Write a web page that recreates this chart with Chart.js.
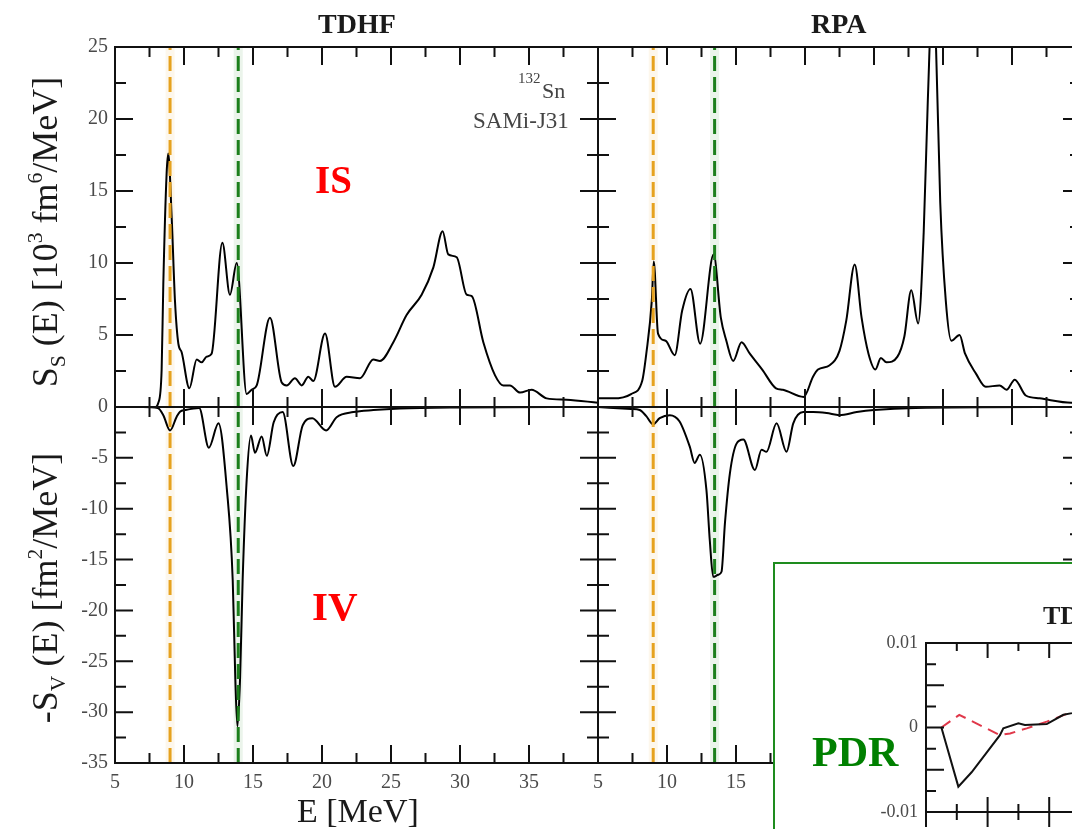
<!DOCTYPE html>
<html>
<head>
<meta charset="utf-8">
<script src="https://cdn.jsdelivr.net/npm/chart.js@4.4.1/dist/chart.umd.min.js"></script>
<style>
html, body { margin: 0; padding: 0; background: #fff; }
#stage { position: relative; width: 1072px; height: 829px; overflow: hidden;
         font-family: 'Liberation Serif', 'Times New Roman', serif; color: #1a1a1a; }
#stage canvas { position: absolute; }
.t { position: absolute; white-space: nowrap; line-height: 1; }
.b { font-weight: bold; }
.sub { font-size: .6em; position: relative; top: .35em; }
.sup { font-size: .6em; position: relative; top: -.7em; }
.rot { transform: translate(-50%, -50%) rotate(-90deg); font-size: 36px; }
#inset { position: absolute; left: 773px; top: 562px; width: 420px; height: 420px;
         border: 2px solid #1e8c1e; background: #fff; }
</style>
</head>
<body>
<div id="stage">
  <canvas id="tdhfUp" width="620" height="431" style="left:0;top:0"></canvas>
  <canvas id="tdhfLo" width="620" height="446" style="left:0;top:383px"></canvas>
  <canvas id="rpaUp" width="517" height="431" style="left:584px;top:0"></canvas>
  <canvas id="rpaLo" width="517" height="446" style="left:584px;top:383px"></canvas>

  <div class="t b" style="left:318px;top:10px;font-size:28px">TDHF</div>
  <div class="t b" style="left:811px;top:10px;font-size:28px">RPA</div>
  <div class="t rot" style="left:45px;top:232px">S<span class="sub">S</span> (E) [10<span class="sup">3</span> fm<span class="sup">6</span>/MeV]</div>
  <div class="t rot" style="left:45px;top:588px">-S<span class="sub">V</span> (E) [fm<span class="sup">2</span>/MeV]</div>
  <div class="t" style="left:297px;top:794px;font-size:34px">E [MeV]</div>
  <div class="t" style="left:518px;top:71px;font-size:15px;color:#444">132</div>
  <div class="t" style="left:542px;top:80px;font-size:22px;color:#444">Sn</div>
  <div class="t" style="left:473px;top:109px;font-size:23px;color:#444">SAMi-J31</div>
  <div class="t b" style="left:315px;top:160px;font-size:39px;color:#ff0000">IS</div>
  <div class="t b" style="left:312px;top:586px;font-size:41px;color:#ff0000">IV</div>

  <div id="inset">
    <canvas id="pdr" width="500" height="300" style="left:0;top:0"></canvas>
    <div class="t b" style="left:37px;top:167px;font-size:42px;color:#008000">PDR</div>
    <div class="t b" style="left:268px;top:39px;font-size:26px">TDHF</div>
  </div>
</div>

<script>
// TDHF strength functions (E in MeV)
var tdhfIsE = [5, 6, 7, 7.8, 8.14, 8.38, 8.5, 8.74, 8.86, 9.11, 9.35, 9.59, 9.83, 10.39, 10.92, 11.28, 11.64, 12.0,
    12.78, 13.33, 13.82, 14.54, 14.9, 15.27, 16.23, 17.08, 17.44, 18.04, 18.53, 19.01, 19.37, 20.22, 20.94, 21.79,
    22.75, 23.72, 24.2, 25.17, 26.14, 27.22, 28.07, 28.74, 29.15, 29.76, 30.48, 30.85, 31.69, 32.54, 33.14, 33.62,
    34.35, 35.19, 36.28, 37.73, 40];
var tdhfIsS = [0, 0, 0, -0.1, 0.3, 2.6, 8.5, 16.2, 17.6, 13.1, 7.3, 4.4, 3.8, 1.3, 3.3, 3.1, 3.5, 3.7,
    11.4, 7.8, 10.0, 0.9, 1.2, 1.5, 6.2, 1.7, 1.5, 2.0, 1.5, 2.1, 1.8, 5.1, 1.4, 2.1,
    2.0, 3.3, 3.2, 4.5, 6.4, 7.8, 9.7, 12.2, 10.6, 10.4, 7.8, 7.7, 4.5, 2.2, 1.5, 1.5,
    1.0, 1.2, 0.6, 0.5, 0.3];
var tdhfIvE = [5, 7, 8.1, 8.5, 8.99, 9.47, 9.71, 10.1, 11.1, 11.8, 12.5, 13.1, 13.53, 13.72, 13.87, 14.06, 14.25,
    14.54, 14.85, 15.14, 15.63, 16.0, 16.5, 17.15, 17.92, 18.6, 19.3, 20.3, 21.06, 22.27, 23.72, 25.65, 30, 40];
var tdhfIvS = [0, 0, -0.1, -0.8, -2.3, -0.95, -0.46, -0.3, -0.1, -4.0, -1.6, -8.0, -17.0, -26.8, -31.4, -26.8, -17.0,
    -7.2, -2.8, -4.5, -2.9, -4.8, -1.5, -0.5, -5.8, -1.8, -1.1, -2.3, -1.0, -0.5, -0.3, -0.15, -0.05, 0];

// RPA strength functions
var rpaIsE = [5, 6.1, 7.4, 8.2, 8.5, 8.9, 9.04, 9.35, 9.9, 10.56, 11.1, 11.7, 12.4, 13.38, 13.9, 14.3, 14.8, 15.4,
    16.0, 16.9, 17.9, 18.4, 19.9, 20.58, 20.94, 21.79, 22.5, 22.99, 23.6, 24.1, 24.6, 25.1, 25.5, 25.9, 26.7, 27.2,
    27.7, 28.2, 28.6, 28.9, 29.25, 29.5, 29.8, 30.2, 30.6, 31.2, 31.6, 32.4, 33.1, 34.1, 34.6, 35.2, 36.0, 37.0,
    39.3, 40];
var rpaIsS = [0.6, 0.6, 0.9, 1.8, 3.7, 7.4, 10.1, 5.1, 4.6, 3.6, 6.7, 8.2, 4.4, 10.6, 6.2, 4.6, 3.2, 4.5,
    3.7, 2.6, 1.3, 1.2, 0.7, 2.1, 2.6, 2.9, 3.9, 6.0, 9.9, 6.2, 3.7, 2.6, 3.4, 3.1, 3.5, 4.9,
    8.1, 5.8, 12.1, 21.3, 29, 24.8, 14.2, 7.4, 4.6, 5.0, 3.7, 2.3, 1.4, 1.5, 1.2, 1.9, 0.8, 0.6,
    0.3, 0.3];
var rpaIvE = [5, 7.4, 8.02, 8.5, 8.99, 9.47, 10.2, 10.9, 11.65, 12.0, 12.38, 12.86, 13.1, 13.35, 13.71, 13.95, 14.2,
    14.56, 15.04, 15.53, 16.37, 16.85, 17.21, 17.94, 18.66, 19.15, 19.87, 20.6, 21.57, 22.5, 23.75, 25, 28, 40];
var rpaIvS = [0, -0.2, -0.3, -0.9, -1.7, -1.1, -0.8, -1.4, -3.9, -5.5, -4.7, -8.2, -13.1, -16.7, -16.5, -16.2, -11.4,
    -6.5, -3.6, -3.2, -6.2, -4.2, -4.4, -1.6, -4.4, -1.6, -0.5, -0.5, -0.6, -0.8, -0.5, -0.3, -0.1, 0];

// reference energies (dashed lines): [low, giant]
var tdhfMarks = [8.99, 13.93];
var rpaMarks = [9.0, 13.45];

// PDR inset
var pdrSolidE = [5.5, 6.05, 6.48, 7.4, 7.51, 8.0, 8.21, 8.92, 9.46, 9.74, 10.3];
var pdrSolid = [0, -0.007, -0.0053, -0.0009, -0.0001, 0.0005, 0.0003, 0.0004, 0.0015, 0.0017, 0.0022];
var pdrDashE = [5.5, 6.08, 7.4, 7.73, 8.27, 8.92, 9.78, 10.3];
var pdrDash = [0, 0.0015, -0.0009, -0.0007, -0.0001, 0.0007, 0.0019, 0.0024];
var pdrYLabels = { '0.01': '0.01', '0': '0', '-0.01': '-0.01' };

var ORANGE = '#e6a21f', GREEN = '#1c7f1c';
var tickFont = { family: "'Liberation Serif', 'Times New Roman', serif", size: 20 };

// inward tick marks and the frame, xmgrace style
var frame = {
    id: 'frame',
    afterDatasetsDraw: function (chart, args, o) {
        var ctx = chart.ctx, a = chart.chartArea, x = chart.scales.x, y = chart.scales.y;
        ctx.save();
        ctx.strokeStyle = '#111';
        ctx.lineWidth = 2;
        ctx.strokeRect(a.left, a.top, a.right - a.left, a.bottom - a.top);
        ctx.beginPath();
        [[0, o.xLen[0]], [o.xStep / 2, o.xLen[1]]].forEach(function (t) {
            for (var v = x.min + t[0]; v <= x.max + 1e-9; v += o.xStep) {
                var px = x.getPixelForValue(v);
                ctx.moveTo(px, a.top); ctx.lineTo(px, a.top + t[1]);
                ctx.moveTo(px, a.bottom + (o.outBottom ? t[1] : 0)); ctx.lineTo(px, a.bottom - t[1]);
            }
        });
        [[0, o.yLen[0]], [o.yStep / 2, o.yLen[1]]].forEach(function (t) {
            for (var v = y.min + t[0]; v <= y.max + 1e-9; v += o.yStep) {
                var py = y.getPixelForValue(v);
                ctx.moveTo(a.left, py); ctx.lineTo(a.left + t[1], py);
                ctx.moveTo(a.right, py); ctx.lineTo(a.right - t[1], py);
            }
        });
        ctx.stroke();
        ctx.restore();
    }
};

function pts(xs, ys) {
    return xs.map(function (e, i) { return { x: e, y: ys[i] }; });
}

function curve(xs, ys) {
    return { data: pts(xs, ys), borderColor: '#000', borderWidth: 2, pointRadius: 0,
             cubicInterpolationMode: 'monotone', order: 1 };
}

function markLines(marks, lo, hi) {
    var out = [];
    [ORANGE, GREEN].forEach(function (c, i) {
        var d = [{ x: marks[i], y: lo }, { x: marks[i], y: hi }];
        out.push({ data: d, borderColor: c, borderWidth: 3, borderDash: [15, 6], pointRadius: 0, order: 0 });
        out.push({ data: d, borderColor: c + '16', borderWidth: 9, pointRadius: 0, order: 2 });
    });
    return out;
}

function panel(id, ds, cfg) {
    return new Chart(document.getElementById(id), {
        type: 'line',
        data: { datasets: ds },
        options: {
            responsive: false, animation: false, devicePixelRatio: 1, events: [],
            layout: { padding: cfg.padding },
            plugins: {
                legend: { display: false }, tooltip: { enabled: false },
                frame: { xStep: 5, yStep: 5, xLen: [18, 10], yLen: [18, 11] }
            },
            scales: {
                x: {
                    type: 'linear', min: 5, max: 40, display: cfg.xLabels,
                    afterFit: function (s) { if (cfg.xLabels) s.height = 66; },
                    grid: { display: false, drawTicks: false }, border: { display: false },
                    ticks: {
                        stepSize: 5, font: tickFont, color: '#4a4a4a', padding: 8,
                        // the left panel's last label would collide with the right panel's "5"
                        callback: function (v) { return (cfg.yLabels && v === 40) ? '' : v; }
                    }
                },
                y: {
                    type: 'linear', min: cfg.yMin, max: cfg.yMax, display: cfg.yLabels,
                    afterFit: function (s) { if (cfg.yLabels) s.width = 115; },
                    grid: { display: false, drawTicks: false }, border: { display: false },
                    ticks: {
                        stepSize: 5, font: tickFont, color: '#4a4a4a', padding: 7,
                        callback: function (v) { return (cfg.yMax === 25 && v === 0) ? '' : v; }
                    }
                }
            }
        },
        plugins: [frame]
    });
}

panel('tdhfUp', [curve(tdhfIsE, tdhfIsS)].concat(markLines(tdhfMarks, 0, 25)),
    { padding: { top: 47, right: 22, bottom: 24, left: 0 }, yMin: 0, yMax: 25, xLabels: false, yLabels: true });
panel('tdhfLo', [curve(tdhfIvE, tdhfIvS)].concat(markLines(tdhfMarks, -35, 0)),
    { padding: { top: 24, right: 22, bottom: 0, left: 0 }, yMin: -35, yMax: 0, xLabels: true, yLabels: true });
panel('rpaUp', [curve(rpaIsE, rpaIsS)].concat(markLines(rpaMarks, 0, 25)),
    { padding: { top: 47, right: 20, bottom: 24, left: 14 }, yMin: 0, yMax: 25, xLabels: false, yLabels: false });
panel('rpaLo', [curve(rpaIvE, rpaIvS)].concat(markLines(rpaMarks, -35, 0)),
    { padding: { top: 24, right: 20, bottom: 0, left: 14 }, yMin: -35, yMax: 0, xLabels: true, yLabels: false });

// PDR inset
new Chart(document.getElementById('pdr'), {
    type: 'line',
    data: {
        datasets: [
            { data: pts(pdrSolidE, pdrSolid), borderColor: '#111', borderWidth: 2, pointRadius: 0, tension: 0 },
            { data: pts(pdrDashE, pdrDash), borderColor: '#e0384a', borderWidth: 2, borderDash: [11, 7],
              pointRadius: 0, tension: 0 }
        ]
    },
    options: {
        responsive: false, animation: false, devicePixelRatio: 1, events: [],
        layout: { padding: { top: 79, right: 41, bottom: 52, left: 0 } },
        plugins: {
            legend: { display: false }, tooltip: { enabled: false },
            frame: { xStep: 2, yStep: 0.005, xLen: [15, 8], yLen: [18, 10], outBottom: true }
        },
        scales: {
            x: { type: 'linear', min: 5, max: 15, display: false },
            y: {
                type: 'linear', min: -0.01, max: 0.01,
                afterFit: function (s) { s.width = 151; },
                grid: { display: false, drawTicks: false }, border: { display: false },
                ticks: {
                    stepSize: 0.005, font: { family: tickFont.family, size: 18 }, color: '#4a4a4a', padding: 8,
                    callback: function (v) {
                        var k = String(Math.round(v * 1000) / 1000);
                        return pdrYLabels[k] || '';
                    }
                }
            }
        }
    },
    plugins: [frame]
});
</script>
</body>
</html>
